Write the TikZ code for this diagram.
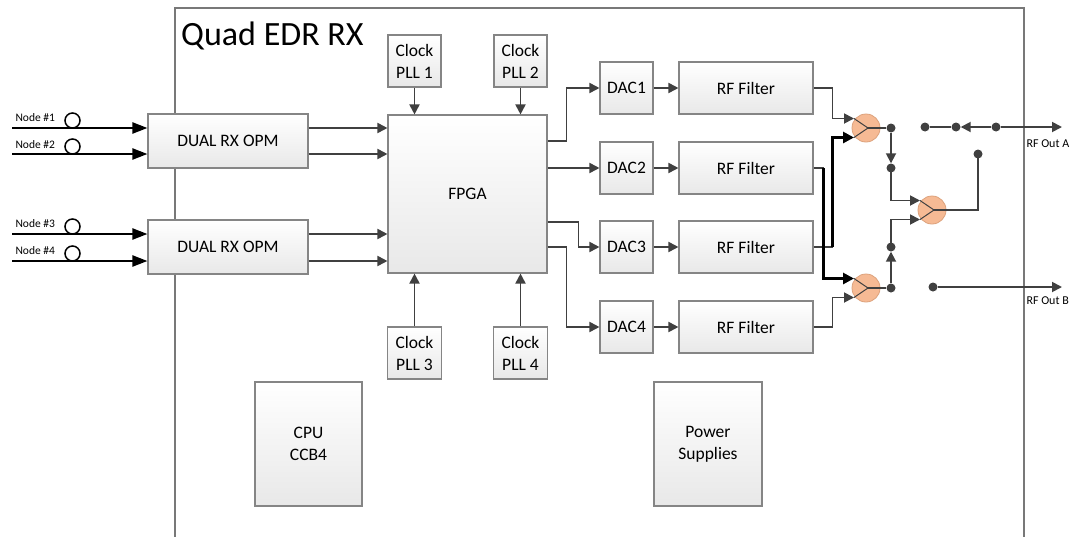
\documentclass[tikz,border=0pt]{standalone}
\usepackage{fontspec}
\setmainfont{Carlito}
\usetikzlibrary{arrows.meta,calc}
\definecolor{ln}{HTML}{404040}
\definecolor{bx}{HTML}{858585}
\definecolor{org}{HTML}{F6BA94}
\definecolor{orgd}{HTML}{DDA27C}
\begin{document}
\begin{tikzpicture}[x=1pt,y=-1pt,
  blk/.style={draw=bx, line width=1.1pt, top color=white, bottom color=black!9,
    inner sep=0pt, align=center, font=\fontsize{17.5}{22}\selectfont},
  arr/.style={draw=ln, line width=1.8pt, -{Triangle[length=10pt,width=10pt]}},
  inarr/.style={draw=black, line width=2.2pt, -{Triangle[length=15pt,width=11pt]}},
  con/.style={draw=ln, line width=1.8pt},
  thkarr/.style={draw=black, line width=2.8pt, -{Triangle[length=11pt,width=11pt]}},
  comb/.style={circle, fill=org, draw=orgd, line width=0.8pt, minimum size=28pt, inner sep=0pt},
  dotn/.style={circle, fill=ln, minimum size=9pt, inner sep=0pt},
  ring/.style={circle, draw=black, line width=1.5pt, minimum size=15pt, inner sep=0pt},
  inlbl/.style={anchor=base west, font=\fontsize{11.5}{13}\selectfont},
  outlbl/.style={anchor=base west, font=\fontsize{12}{14}\selectfont},
  inner/.style={draw=ln, line width=1pt}
]
\useasboundingbox (0,0) rectangle (1074,536);
\fill[white] (0,0) rectangle (1074,536);
% frame
\draw[draw=bx!90!black, line width=1.2pt] (175,560) -- (175,8) -- (1024,8) -- (1024,560);
\node[anchor=base west, font=\fontsize{34}{40}\selectfont, inner sep=0pt] (title) at (181,45) {Quad EDR RX};

% blocks
\node[blk, minimum width=160pt, minimum height=54pt] (opm1) at (228,141) {DUAL RX OPM};
\node[blk, minimum width=160pt, minimum height=54pt] (opm2) at (228,247) {DUAL RX OPM};
\node[blk, minimum width=159pt, minimum height=158pt] (fpga) at (467.5,194) {FPGA};
\node[blk, minimum width=53pt, minimum height=52pt] (clk1) at (414.5,61) {Clock\\PLL 1};
\node[blk, minimum width=53pt, minimum height=52pt] (clk2) at (520.5,61) {Clock\\PLL 2};
\node[blk, minimum width=54pt, minimum height=52pt] (clk3) at (414.5,353) {Clock\\PLL 3};
\node[blk, minimum width=54pt, minimum height=52pt] (clk4) at (520.5,353) {Clock\\PLL 4};
\node[blk, minimum width=53pt, minimum height=52pt] (dac1) at (626.5,88) {DAC1};
\node[blk, minimum width=53pt, minimum height=52pt] (dac2) at (626.5,168) {DAC2};
\node[blk, minimum width=53pt, minimum height=52pt] (dac3) at (626.5,247) {DAC3};
\node[blk, minimum width=53pt, minimum height=52pt] (dac4) at (626.5,327) {DAC4};
\node[blk, minimum width=134pt, minimum height=52pt] (rf1) at (746,88) {RF Filter};
\node[blk, minimum width=134pt, minimum height=52pt] (rf2) at (746,168) {RF Filter};
\node[blk, minimum width=134pt, minimum height=52pt] (rf3) at (746,247) {RF Filter};
\node[blk, minimum width=134pt, minimum height=52pt] (rf4) at (746,327) {RF Filter};
\node[blk, minimum width=107pt, minimum height=124pt] (cpu) at (308.5,444) {CPU\\CCB4};
\node[blk, minimum width=108pt, minimum height=124pt] (pwr) at (708,444) {Power\\Supplies};

% inputs
\coordinate (n1) at (12,128);
\coordinate (n2) at (12,154);
\coordinate (n3) at (12,234);
\coordinate (n4) at (12,261);
\node[inlbl] (l1) at (12,121) {Node \#1};
\node[inlbl] (l2) at (12,148) {Node \#2};
\node[inlbl] (l3) at (12,227) {Node \#3};
\node[inlbl] (l4) at (12,254) {Node \#4};
\node[ring] (r1) at (72.5,120.5) {};
\node[ring] (r2) at (72.5,146.5) {};
\node[ring] (r3) at (72.5,226.5) {};
\node[ring] (r4) at (72.5,253.5) {};
\draw[inarr] (n1) -- (n1 -| opm1.west);
\draw[inarr] (n2) -- (n2 -| opm1.west);
\draw[inarr] (n3) -- (n3 -| opm2.west);
\draw[inarr] (n4) -- (n4 -| opm2.west);
\draw[arr] (opm1.east |- n1) -- (fpga.west |- n1);
\draw[arr] (opm1.east |- n2) -- (fpga.west |- n2);
\draw[arr] (opm2.east |- n3) -- (fpga.west |- n3);
\draw[arr] (opm2.east |- n4) -- (fpga.west |- n4);

% clocks
\draw[arr] (clk1.south) -- (fpga.north -| clk1.south);
\draw[arr] (clk2.south) -- (fpga.north -| clk2.south);
\draw[arr] (clk3.north) -- (fpga.south -| clk3.north);
\draw[arr] (clk4.north) -- (fpga.south -| clk4.north);

% FPGA to DACs
\draw[arr] (fpga.east |- 0,141) -- ++(19,0) |- (dac1.west);
\draw[arr] (fpga.east |- dac2.west) -- (dac2.west);
\draw[arr] (fpga.east |- 0,222) -- ++(31,0) |- (dac3.west);
\draw[arr] (fpga.east |- 0,247) -- ++(19,0) |- (dac4.west);
\draw[arr] (dac1.east) -- (rf1.west);
\draw[arr] (dac2.east) -- (rf2.west);
\draw[arr] (dac3.east) -- (rf3.west);
\draw[arr] (dac4.east) -- (rf4.west);

% combiners
\node[comb] (cb1) at (866,128) {};
\node[comb] (cb2) at (932,210) {};
\node[comb] (cb3) at (866,288) {};
\foreach \c in {cb1,cb2,cb3}{
  \coordinate (\c a) at ($(\c.center)+(-12,-9.5)$);
  \coordinate (\c b) at ($(\c.center)+(-12,9.5)$);
  \coordinate (\c o) at ($(\c.center)+(2,0)$);
  \draw[inner] (\c a) -- (\c o) -- (\c b);
}

% RF filters to combiners
\draw[arr] (rf1.east) -- ++(19,0) |- (cb1a);
\draw[con] (rf3.east) -- ++(19,0) coordinate (k3);
\draw[thkarr] (k3) |- (cb1b);
\draw[con] (rf2.east) -- ++(10,0) coordinate (k2);
\draw[thkarr] (k2) |- (cb3a);
\draw[arr] (rf4.east) -- ++(19,0) |- (cb3b);

% switching network
\node[dotn] (d1) at (891,128) {};
\node[dotn] (d2) at (891,168) {};
\node[dotn] (d3) at (891,288) {};
\node[dotn] (d4) at (891,247) {};
\node[dotn] (d5) at (978,154) {};
\node[dotn] (d6) at (925,127) {};
\node[dotn] (d7) at (956,127) {};
\node[dotn] (d8) at (996,127) {};
\node[dotn] (d9) at (933,287) {};
\draw[con] (cb1o) -- (d1);
\draw[con] (cb3o) -- (d3);
\draw[arr] (d1) -- (d2);
\draw[arr] (d3) -- (d4);
\draw[arr] (d2.center) |- (cb2a);
\draw[arr] (d4.center) |- (cb2b);
\draw[con] (cb2o) -| (d5.center);
\draw[con] (d6) -- (d7);
\draw[arr] (d8) -- (d7);
\coordinate (outA) at (1062,127);
\coordinate (outB) at (1062,287);
\draw[arr] (d8) -- (outA);
\draw[arr] (d9) -- (outB);
\node[outlbl] (la) at (1023,147) {RF Out A};
\node[outlbl] (lb) at (1023,304) {RF Out B};
\end{tikzpicture}
\end{document}
